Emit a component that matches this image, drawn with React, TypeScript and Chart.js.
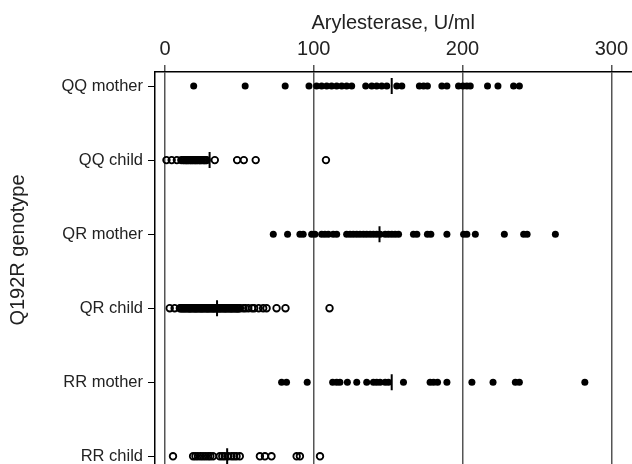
import React, { useEffect, useRef } from "react";
import { Chart, registerables } from "chart.js";

Chart.register(...registerables);

const categories = ["QQ mother", "QQ child", "QR mother", "QR child", "RR mother", "RR child"];
const xTicks = [0, 100, 200, 300];
const xTitle = "Arylesterase, U/ml";
const yTitle = "Q192R genotype";

const qqMother = [19.3, 53.9, 80.8, 96.8, 101.9, 105.3, 108.7, 112, 115.4, 118.8, 122.1, 125.5, 134.9, 139, 142.3, 145.7, 149.1, 155.8, 159.2, 171, 173.8, 176.4, 186.1, 189.5, 197.3, 200.3, 202.9, 205.2, 216.8, 223.8, 234.3, 238.2];
const qqChild = [1, 4.5, 8, 11, 12.2, 13, 14, 14.5, 15.3, 16, 17, 17.5, 18.4, 19, 20, 20.5, 21.3, 22, 23, 23.5, 24.2, 25, 26, 26.5, 27.3, 28, 33.5, 48.5, 53, 61, 108.2];
const qrMother = [72.8, 82.4, 90.7, 92.9, 98.6, 100.8, 105.3, 107.5, 109.8, 113.1, 115.4, 122.1, 124.4, 126.6, 128.9, 131.1, 133.4, 135.6, 137.9, 140.1, 142.3, 144.6, 148, 150.2, 152.5, 154.7, 157, 167, 169.3, 176.4, 178.7, 189.5, 200.7, 202.9, 208.6, 228.1, 241.1, 243.4, 262.4];
const qrChild = [3.2, 6.5, 10, 10.8, 11.5, 12.3, 13, 13.7, 14.5, 15.2, 16, 16.6, 17, 17.8, 18.5, 19.3, 20, 20.6, 21, 21.8, 22.5, 23.2, 24, 24.5, 25, 25.8, 26.5, 27.2, 28, 28.6, 29, 29.8, 30.5, 31.2, 32, 32.5, 33, 33.8, 34.5, 35.2, 36, 36.5, 37, 37.8, 38.5, 39.2, 40, 40.5, 41, 41.8, 42.5, 43.2, 44, 44.5, 45, 45.8, 46.5, 47.2, 48, 48.5, 49, 49.7, 50.4, 52.5, 54, 56, 58.5, 60, 63, 66, 68.3, 75, 81, 110.6];
const rrMother = [78.4, 81.7, 95.6, 112.7, 115.4, 117.6, 122.6, 128.9, 135.6, 140.1, 142.3, 144.6, 148, 150.2, 160.3, 178.2, 180.5, 183.2, 189.5, 206.3, 220.5, 235.5, 238.2, 282.2];
const rrChild = [5.4, 18.9, 20.5, 22.2, 24, 25.6, 27.3, 29, 30.5, 32.3, 36.8, 38.5, 40.2, 42.4, 44.7, 46.4, 48.1, 50.3, 63.8, 67.2, 71.6, 88.5, 90.7, 104.2];
const means = [152.4, 30, 144.2, 35, 152.4, 41.8];

const groups = [qqMother, qqChild, qrMother, qrChild, rrMother, rrChild];
const filled = [true, false, true, false, true, false];

const FONT = "'Liberation Sans', Arial, Helvetica, sans-serif";

export default function App() {
  const ref = useRef<HTMLCanvasElement | null>(null);

  useEffect(() => {
    if (!ref.current) return;
    const datasets: any[] = groups.map((vals, i) => ({
      label: categories[i],
      data: vals.map((v) => ({ x: v, y: i })),
      showLine: false,
      pointStyle: "circle",
      pointRadius: filled[i] ? 3.5 : 3.3,
      pointBorderWidth: filled[i] ? 0 : 1.8,
      pointBackgroundColor: filled[i] ? "#000" : "rgba(255,255,255,0)",
      pointBorderColor: "#000",
    }));
    datasets.push({
      label: "mean",
      data: means.map((v, i) => ({ x: v, y: i })),
      showLine: false,
      pointStyle: "line",
      pointRotation: 90,
      pointRadius: 8,
      pointBorderWidth: 2,
      pointBorderColor: "#000",
      pointBackgroundColor: "#000",
    });

    const yTitlePlugin = {
      id: "yTitlePlugin",
      afterDraw(chart: any) {
        const ctx = chart.ctx;
        ctx.save();
        ctx.translate(18, 250);
        ctx.rotate(-Math.PI / 2);
        ctx.fillStyle = "#222";
        ctx.font = `20px ${FONT}`;
        ctx.textAlign = "center";
        ctx.textBaseline = "middle";
        ctx.fillText(yTitle, 0, 0);
        ctx.restore();
      },
    };

    const chart = new Chart(ref.current, {
      type: "scatter",
      data: { datasets },
      plugins: [yTitlePlugin],
      options: {
        animation: false,
        responsive: false,
        maintainAspectRatio: false,
        layout: { padding: 0, autoPadding: false },
        plugins: { legend: { display: false }, tooltip: { enabled: false } },
        scales: {
          x: {
            type: "linear",
            position: "top",
            min: -6.7,
            max: 313.5,
            afterBuildTicks: (scale: any) => {
              scale.ticks = xTicks.map((v) => ({ value: v }));
            },
            afterFit: (scale: any) => {
              scale.height = 72;
            },
            grid: {
              color: "#555",
              lineWidth: 1.5,
              drawOnChartArea: true,
              drawTicks: true,
              tickLength: 7,
            },
            border: { display: true, color: "#000", width: 1.5 },
            ticks: {
              color: "#222",
              padding: 4,
              font: { family: FONT, size: 20 },
            },
            title: {
              display: true,
              text: xTitle,
              color: "#222",
              font: { family: FONT, size: 20 },
              padding: { top: 11, bottom: 0 },
            },
          },
          y: {
            type: "linear",
            reverse: true,
            min: -0.19,
            max: 5.2,
            afterBuildTicks: (scale: any) => {
              scale.ticks = categories.map((_, i) => ({ value: i }));
            },
            afterFit: (scale: any) => {
              scale.width = 155;
            },
            grid: {
              color: "#000",
              drawOnChartArea: false,
              drawTicks: true,
              tickLength: 7,
              lineWidth: 1,
            },
            border: { display: true, color: "#000", width: 1.5 },
            ticks: {
              color: "#222",
              padding: 5,
              font: { family: FONT, size: 16.5 },
              callback: (v: any) => categories[Math.round(Number(v))] ?? "",
            },
          },
        },
      },
    });
    return () => chart.destroy();
  }, []);

  return (
    <div style={{ position: "absolute", left: 0, top: 0, width: 632, height: 486, background: "#fff" }}>
      <canvas ref={ref} width={632} height={486} style={{ display: "block" }} />
    </div>
  );
}
